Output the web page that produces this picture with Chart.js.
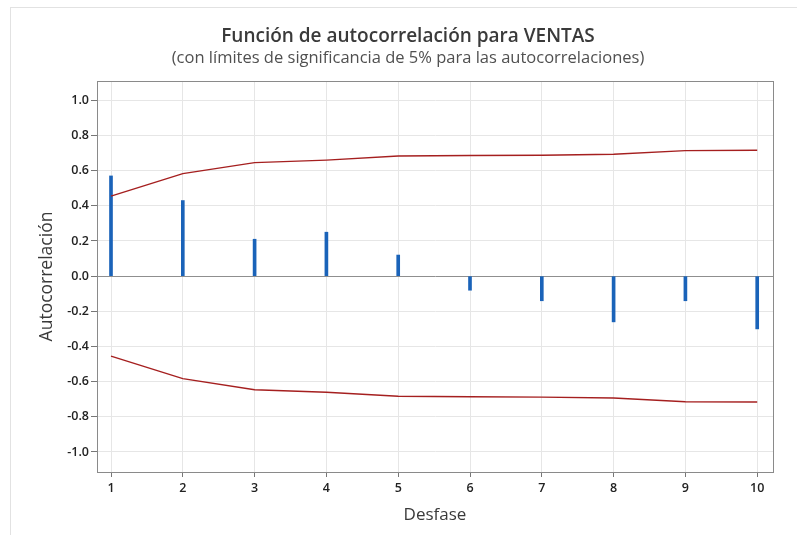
<!DOCTYPE html>
<html>
<head>
<meta charset="utf-8">
<script src="https://cdn.jsdelivr.net/npm/chart.js@4.4.1/dist/chart.umd.min.js"></script>
<style>
  html, body { margin: 0; padding: 0; background: #fff; }
  #frame { position: absolute; left: 10px; top: 7px; width: 800px; height: 600px;
           border-left: 1px solid #e2e2e2; border-top: 1px solid #e2e2e2; }
  #wrap { position: absolute; left: 0; top: 0; width: 797px; height: 535px; }
  .head { position: absolute; left: 0; width: 816px; text-align: center; white-space: nowrap;
          font-family: 'Open Sans', 'Noto Sans', sans-serif; line-height: 1.2; }
  #title { top: 24px; font-size: 19px; font-weight: 600; color: #3a3a3a; }
  #subtitle { top: 47px; font-size: 16.5px; font-weight: 400; color: #505050; }
</style>
</head>
<body>
<div id="frame"></div>
<div id="wrap"><canvas id="c" width="797" height="535"></canvas></div>
<div class="head" id="title">Función de autocorrelación para VENTAS</div>
<div class="head" id="subtitle">(con límites de significancia de 5% para las autocorrelaciones)</div>
<script>
// Autocorrelation of VENTAS by lag, with 5% significance limits
const lags = [1, 2, 3, 4, 5, 6, 7, 8, 9, 10];
const acf = [0.57, 0.43, 0.21, 0.25, 0.12, -0.08, -0.14, -0.26, -0.14, -0.30];
const upperLimit = [0.455, 0.583, 0.646, 0.66, 0.683, 0.686, 0.688, 0.693, 0.714, 0.716];
const lowerLimit = [-0.455, -0.583, -0.646, -0.66, -0.683, -0.686, -0.688, -0.693, -0.714, -0.716];
const yTicks = [-1.0, -0.8, -0.6, -0.4, -0.2, 0.0, 0.2, 0.4, 0.6, 0.8, 1.0];
const xTicks = lags;

const BLUE = '#1a63b9';
const RED = '#a51f1f';
const FONT = "'Open Sans', 'Noto Sans', sans-serif";

const pairs = (ys) => lags.map((x, i) => ({ x: x, y: ys[i] }));

// Box around the plotting area
const plotFrame = {
  id: 'plotFrame',
  afterDatasetsDraw(chart) {
    const { ctx, chartArea: a } = chart;
    ctx.save();
    ctx.strokeStyle = '#8a8a8a';
    ctx.lineWidth = 1;
    ctx.strokeRect(Math.round(a.left) + 0.5, Math.round(a.top) + 0.5,
                   Math.round(a.right - a.left), Math.round(a.bottom - a.top));
    ctx.restore();
  }
};

new Chart(document.getElementById('c'), {
  type: 'bar',
  data: {
    datasets: [
      { type: 'line', data: pairs(upperLimit), borderColor: RED, borderWidth: 1.4,
        pointRadius: 0, tension: 0, fill: false, order: 1 },
      { type: 'line', data: pairs(lowerLimit), borderColor: RED, borderWidth: 1.4,
        pointRadius: 0, tension: 0, fill: false, order: 1 },
      { type: 'bar', data: pairs(acf), backgroundColor: BLUE, borderWidth: 0,
        barThickness: 3, order: 2 }
    ]
  },
  options: {
    responsive: false,
    animation: false,
    layout: { padding: { left: 0, right: 24, top: 81, bottom: 0 } },
    plugins: {
      legend: { display: false },
      tooltip: { enabled: false }
    },
    scales: {
      x: {
        type: 'linear',
        offset: false,
        min: 0.805,
        max: 10.22,
        afterBuildTicks(scale) { scale.ticks = xTicks.map(v => ({ value: v })); },
        afterFit(scale) { scale.height = 63; },
        ticks: {
          color: '#222',
          font: { family: FONT, size: 12.5, weight: '600' },
          padding: 4,
          maxRotation: 0,
          callback: (v) => String(v)
        },
        grid: { offset: false, color: '#e6e6e6', lineWidth: 1, tickColor: '#777', tickLength: 5 },
        border: { display: true, color: '#8a8a8a' },
        title: {
          display: true,
          text: 'Desfase',
          color: '#3a3a3a',
          font: { family: FONT, size: 17, weight: 'normal', lineHeight: 1.2 },
          padding: { top: 0, bottom: 10 }
        }
      },
      y: {
        type: 'linear',
        min: -1.114,
        max: 1.11,
        afterBuildTicks(scale) { scale.ticks = yTicks.map(v => ({ value: v })); },
        afterFit(scale) { scale.width = 97; },
        ticks: {
          color: '#222',
          font: { family: FONT, size: 12.5, weight: '600' },
          padding: 2,
          callback: (v) => Number(v).toFixed(1)
        },
        grid: {
          color: (ctx) => (ctx.tick && Math.abs(ctx.tick.value) < 1e-9) ? '#8f8f8f' : '#e6e6e6',
          lineWidth: 1,
          tickColor: '#777',
          tickLength: 6
        },
        border: { display: true, color: '#8a8a8a' },
        title: {
          display: true,
          text: 'Autocorrelación',
          color: '#3a3a3a',
          font: { family: FONT, size: 17.5, weight: 'normal', lineHeight: 1.2 },
          padding: { top: 37, bottom: 0 }
        }
      }
    }
  },
  plugins: [plotFrame]
});
</script>
</body>
</html>
